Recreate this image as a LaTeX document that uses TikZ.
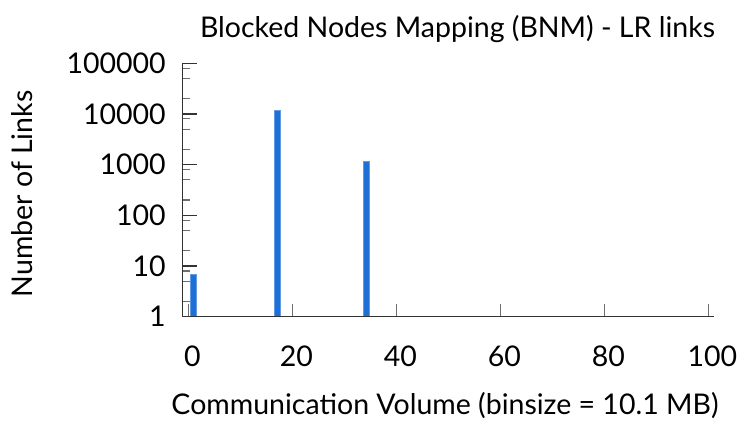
\documentclass[tikz,border=0pt]{standalone}
\usepackage{fontspec}
\setmainfont{Lato}
\usepackage{tikz}
\usetikzlibrary{positioning}
\definecolor{barblue}{RGB}{31,112,214}
\definecolor{axisgray}{RGB}{51,51,51}
\definecolor{tickgray}{RGB}{110,110,110}

\begin{document}
\begin{tikzpicture}[
  x=1pt,y=-1pt,
  every node/.style={font=\fontsize{28.5}{34}\selectfont,inner sep=0pt},
  axisline/.style={axisgray,line width=1.3pt},
  majortick/.style={axisgray,line width=1.2pt},
  minortick/.style={tickgray,line width=1.2pt},
  xtick/.style={tickgray,line width=1.2pt},
  bar/.style={fill=barblue,draw=barblue!70!white,line width=0.6pt}
]
  \useasboundingbox (0,0) rectangle (740,421);
  % title and axis labels
  \node[anchor=base] (title) at (457.5,37) {Blocked Nodes Mapping (BNM) - LR links};
  \node[anchor=base,rotate=90] (ylabel) at (32.7,194) {Number of Links};
  \node[anchor=base] (xlabel) at (445,414) {Communication Volume (binsize = 10.1 MB)};
  % plot area: x in data units, y in decades
  \begin{scope}[shift={(188.3,316.7)},x=5.2pt,y=50.7pt]
    \coordinate (origin) at (-1.1,0);
    \coordinate (xend) at (101,0);
    \coordinate (ytop) at (-1.1,5);
    % log ticks on y
    \foreach \e/\t in {0/1,1/10,2/100,3/1000,4/10000,5/100000} {
      \draw[majortick] (-1.1,\e) -- ++(14.3pt,0);
      \node[anchor=east] (ylbl\e) at (-1.1,\e) [xshift=-16.7pt] {\t};
    }
    \foreach \e in {0,...,4}
      \foreach \m in {2,5,8}
        \draw[minortick] (-1.1,{\e+log10(\m)}) -- ++(7.3pt,0);
    % ticks on x
    \foreach \v in {0,20,...,100} {
      \draw[xtick] (\v,0) -- ++(0,13pt);
      \node[anchor=base] (xlbl\v) at (\v,0) [xshift=4pt,yshift=-49.3pt] {\v};
    }
    % bars
    \draw[bar] (0.42,0) rectangle (1.58,{log10(7)});
    \draw[bar] (16.52,0) rectangle (17.68,{log10(12000)});
    \draw[bar] (33.62,0) rectangle (34.78,{log10(1160)});
    % axes
    \draw[axisline] (ytop) -- (origin) -- (xend);
  \end{scope}
\end{tikzpicture}
\end{document}
